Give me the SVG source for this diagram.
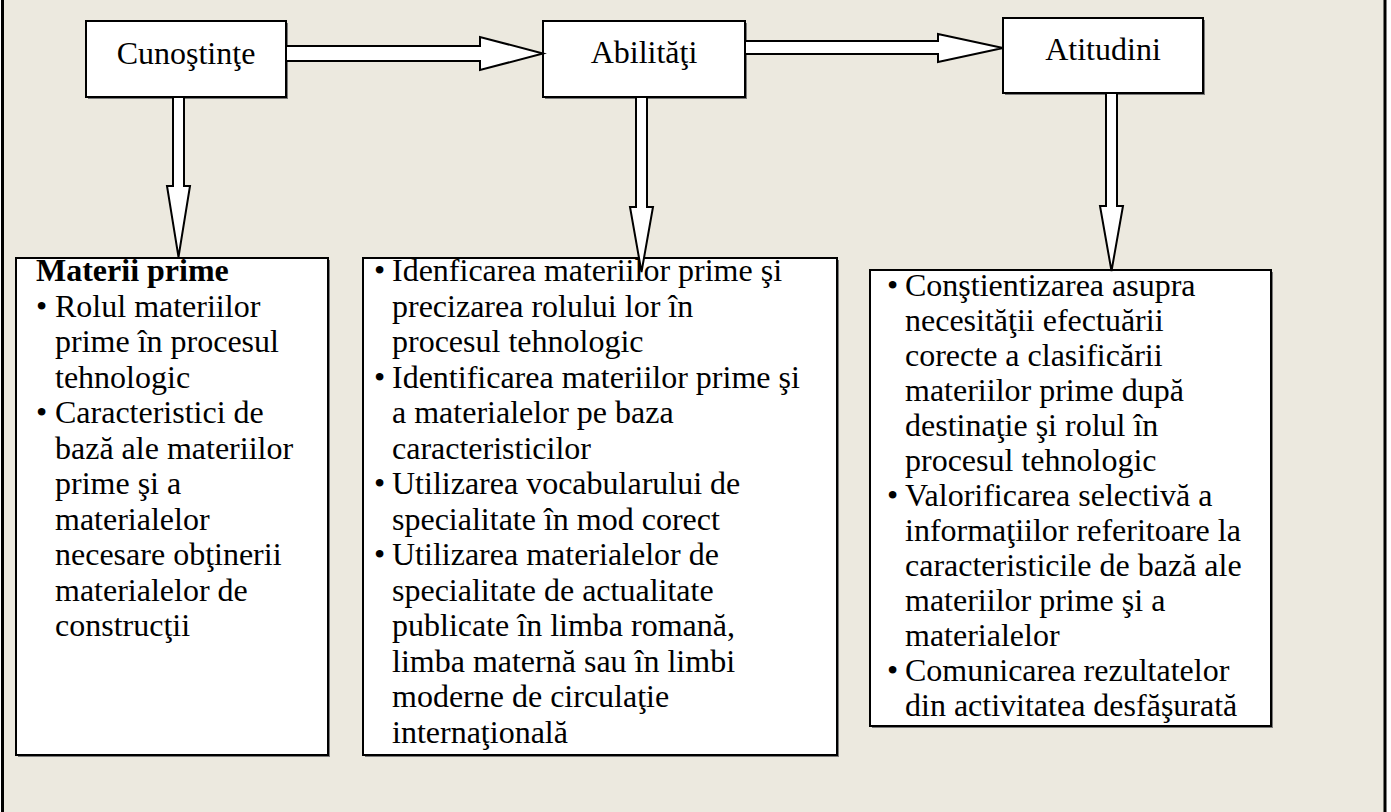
<svg xmlns="http://www.w3.org/2000/svg" width="1391" height="812" viewBox="0 0 1391 812">
<style>
.t{font-family:"Liberation Serif","Times New Roman",serif;font-size:32px;fill:#000}
.b{font-weight:bold}
.box{fill:#fff;stroke:#000;stroke-width:2}
.sh{fill:#7a7a7a}
.arr{fill:#fff;stroke:#000;stroke-width:2;stroke-linejoin:miter}
</style>
<rect x="0" y="0" width="1391" height="812" fill="#fff"/>
<rect x="2" y="0" width="1384" height="812" fill="#ECE9DF"/>
<line x1="2.5" y1="0" x2="2.5" y2="812" stroke="#000" stroke-width="3"/>
<line x1="1385" y1="0" x2="1385" y2="812" stroke="#000" stroke-width="3"/>

<g id="cunostinte">
<rect class="sh" x="88" y="23" width="200" height="76"/>
<rect class="box" x="86" y="21" width="200" height="76"/>
<text class="t" x="186" y="64" text-anchor="middle">Cunoştinţe</text>
</g>
<g id="abilitati">
<rect class="sh" x="545" y="23" width="202" height="76"/>
<rect class="box" x="543" y="21" width="202" height="76"/>
<text class="t" x="644" y="63" text-anchor="middle">Abilităţi</text>
</g>
<g id="atitudini">
<rect class="sh" x="1005" y="20" width="200" height="75"/>
<rect class="box" x="1003" y="18" width="200" height="75"/>
<text class="t" x="1103" y="60" text-anchor="middle">Atitudini</text>
</g>

<g id="box-cunostinte">
<rect class="sh" x="18" y="260" width="312" height="497"/>
<rect class="box" x="16" y="258" width="312" height="497"/>
<text class="t">
<tspan class="b" x="36" y="281">Materii prime</tspan>
<tspan x="36" y="316.5">•</tspan><tspan x="55" y="316.5">Rolul materiilor</tspan>
<tspan x="55" y="352">prime în procesul</tspan>
<tspan x="55" y="387.5">tehnologic</tspan>
<tspan x="36" y="423">•</tspan><tspan x="55" y="423">Caracteristici de</tspan>
<tspan x="55" y="458.5">bază ale materiilor</tspan>
<tspan x="55" y="494">prime şi a</tspan>
<tspan x="55" y="529.5">materialelor</tspan>
<tspan x="55" y="565">necesare obţinerii</tspan>
<tspan x="55" y="600.5">materialelor de</tspan>
<tspan x="55" y="636">construcţii</tspan>
</text>
</g>

<g id="box-abilitati">
<rect class="sh" x="365" y="260" width="474" height="497"/>
<rect class="box" x="363" y="258" width="474" height="497"/>
<text class="t">
<tspan x="374" y="281">•</tspan><tspan x="392" y="281">Idenficarea materiilor prime şi</tspan>
<tspan x="392" y="316.5">precizarea  rolului lor în</tspan>
<tspan x="392" y="352">procesul tehnologic</tspan>
<tspan x="374" y="387.5">•</tspan><tspan x="392" y="387.5">Identificarea materiilor prime şi</tspan>
<tspan x="392" y="423">a materialelor pe baza</tspan>
<tspan x="392" y="458.5">caracteristicilor</tspan>
<tspan x="374" y="494">•</tspan><tspan x="392" y="494">Utilizarea vocabularului de</tspan>
<tspan x="392" y="529.5">specialitate în mod corect</tspan>
<tspan x="374" y="565">•</tspan><tspan x="392" y="565">Utilizarea materialelor de</tspan>
<tspan x="392" y="600.5">specialitate de actualitate</tspan>
<tspan x="392" y="636">publicate în limba romană,</tspan>
<tspan x="392" y="671.5">limba maternă sau în limbi</tspan>
<tspan x="392" y="707">moderne de circulaţie</tspan>
<tspan x="392" y="742.5">internaţională</tspan>
</text>
</g>

<g id="box-atitudini">
<rect class="sh" x="872" y="272" width="401" height="456"/>
<rect class="box" x="870" y="270" width="401" height="456"/>
<text class="t">
<tspan x="887" y="296">•</tspan><tspan x="905" y="296">Conştientizarea asupra</tspan>
<tspan x="905" y="331">necesităţii efectuării</tspan>
<tspan x="905" y="366">corecte a clasificării</tspan>
<tspan x="905" y="401">materiilor prime după</tspan>
<tspan x="905" y="436">destinaţie şi rolul în</tspan>
<tspan x="905" y="471">procesul tehnologic</tspan>
<tspan x="887" y="506">•</tspan><tspan x="905" y="506">Valorificarea selectivă a</tspan>
<tspan x="905" y="541">informaţiilor referitoare la</tspan>
<tspan x="905" y="576">caracteristicile de bază ale</tspan>
<tspan x="905" y="611">materiilor prime şi a</tspan>
<tspan x="905" y="646">materialelor</tspan>
<tspan x="887" y="681">•</tspan><tspan x="905" y="681">Comunicarea rezultatelor</tspan>
<tspan x="905" y="716">din activitatea desfăşurată</tspan>
</text>
</g>

<g id="connectors">
<path class="arr" d="M286,46 L480,46 L480,37 L543,53.5 L480,70 L480,61 L286,61 Z"/>
<path class="arr" d="M745,41 L938,41 L938,34 L1003,48 L938,62 L938,54 L745,54 Z"/>
<path class="arr" d="M173,97 L184,97 L184,186 L190,186 L178.5,257 L167,186 L173,186 Z"/>
<path class="arr" d="M636,97 L647,97 L647,207 L653,207 L641.5,272 L630,207 L636,207 Z"/>
<path class="arr" d="M1106,93 L1117,93 L1117,206 L1123,206 L1111.5,271 L1100,206 L1106,206 Z"/>
</g>
</svg>
